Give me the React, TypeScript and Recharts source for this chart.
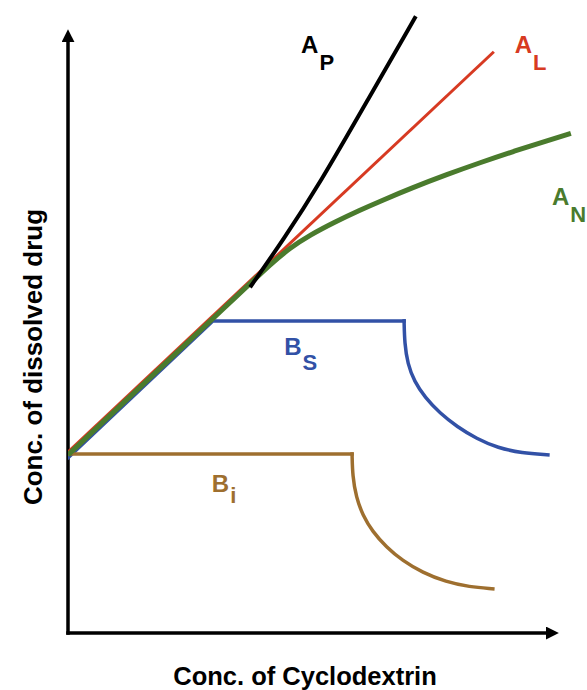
import React from 'react';
import { LineChart, Line, XAxis, YAxis, ReferenceLine, ReferenceDot, Label } from 'recharts';

const FONT = '"Liberation Sans", Arial, Helvetica, sans-serif';

// A_L : linear
const alX = [0, 83.5];
const alY = [29.05, 93.3];

// A_N : negative deviation
const anX = [0, 35.7, 39.6, 43.5, 47.5, 52.4, 57.3, 61.2, 67.6, 74.3, 80.8, 87.3, 93.9, 98.6];
const anY = [28.57, 56.1, 59.1, 61.8, 63.9, 66.0, 67.9, 69.3, 71.5, 73.6, 75.5, 77.3, 79.0, 80.2];

// A_P : positive deviation
const apX = [35.7, 42.2, 49.4, 58.8, 68.2];
const apY = [55.5, 63.1, 72.2, 85.6, 99.0];

// B_S : rise + plateau, then fall
const bsX = [0, 28.4, 65.9];
const bsY = [28.1, 50.1, 50.1];
const bsTailX = [65.9, 66.0, 66.6, 67.9, 70.0, 72.9, 76.3, 80.1, 84.3, 89.0, 94.1];
const bsTailY = [50.1, 46.5, 43.2, 40.4, 37.8, 35.3, 33.1, 31.2, 29.7, 28.9, 28.6];

// B_i : plateau, then fall
const biX = [0, 55.7];
const biY = [28.73, 28.73];
const biTailX = [55.7, 55.8, 56.5, 57.8, 59.7, 62.4, 65.6, 69.5, 74.1, 78.7, 83.3];
const biTailY = [28.73, 25.2, 21.8, 18.9, 16.3, 13.8, 11.6, 9.7, 8.2, 7.4, 7.1];

// axis extents (arrow heads added by marker)
const xAxisEnd = 93.9;
const yAxisEnd = 95.0;

const zip = (xs: number[], ys: number[]) => xs.map((x, i) => ({ x, y: ys[i] }));

const curveLabels = [
  { main: 'A', sub: 'P', x: 45.7, y: 93.1, color: '#000000', dy: 17 },
  { main: 'A', sub: 'L', x: 87.6, y: 93.1, color: '#d73a22', dy: 17 },
  { main: 'A', sub: 'N', x: 94.9, y: 68.7, color: '#4a7b2d', dy: 17 },
  { main: 'B', sub: 'S', x: 42.4, y: 44.6, color: '#3251a6', dy: 15 },
  { main: 'B', sub: 'i', x: 28.2, y: 22.6, color: '#9e6f2f', dy: 11 },
];

const XTitle = (props: any) => {
  const vb = props.viewBox;
  return (
    <text x={vb.x + 237} y={vb.y + vb.height - 5} textAnchor="middle" fontFamily={FONT} fontWeight="bold" fontSize={25.5} fill="#000">
      Conc. of Cyclodextrin
    </text>
  );
};

const YTitle = (props: any) => {
  const vb = props.viewBox;
  const cx = vb.x + 42;
  const cy = vb.y + 347;
  return (
    <text x={cx} y={cy} transform={`rotate(-90, ${cx}, ${cy})`} textAnchor="middle" fontFamily={FONT} fontWeight="bold" fontSize={26} fill="#000">
      Conc. of dissolved drug
    </text>
  );
};

const App: React.FC = () => {
  return (
    <div style={{ position: 'absolute', left: 0, top: 0, width: 587, height: 690, background: '#fff' }}>
      <LineChart width={587} height={690} margin={{ top: 10, right: 9, left: 0, bottom: 0 }}>
        <defs>
          <marker id="axisArrow" viewBox="0 0 13 13" refX={1} refY={6.5} markerWidth={13} markerHeight={13} markerUnits="userSpaceOnUse" orient="auto">
            <path d="M0,0 L13,6.5 L0,13 Z" fill="#000" />
          </marker>
        </defs>
        <XAxis type="number" dataKey="x" domain={[0, 100]} height={57} axisLine={false} tickLine={false} tick={false} allowDataOverflow>
          <Label content={XTitle} />
        </XAxis>
        <YAxis type="number" dataKey="y" domain={[0, 100]} width={68} axisLine={false} tickLine={false} tick={false} allowDataOverflow>
          <Label content={YTitle} />
        </YAxis>

        <ReferenceLine segment={[{ x: 0, y: 0 }, { x: 0, y: yAxisEnd }]} stroke="#000" strokeWidth={3.5} strokeLinecap="square" markerEnd="url(#axisArrow)" />
        <ReferenceLine segment={[{ x: 0, y: 0 }, { x: xAxisEnd, y: 0 }]} stroke="#000" strokeWidth={3.5} strokeLinecap="square" markerEnd="url(#axisArrow)" />

        <Line data={zip(bsX, bsY)} dataKey="y" type="linear" stroke="#3251a6" strokeWidth={3.5} strokeLinecap="square" dot={false} activeDot={false} isAnimationActive={false} />
        <Line data={zip(bsTailX, bsTailY)} dataKey="y" type="basis" stroke="#3251a6" strokeWidth={3.5} strokeLinecap="square" dot={false} activeDot={false} isAnimationActive={false} />
        <Line data={zip(biX, biY)} dataKey="y" type="linear" stroke="#9e6f2f" strokeWidth={3.5} strokeLinecap="square" dot={false} activeDot={false} isAnimationActive={false} />
        <Line data={zip(biTailX, biTailY)} dataKey="y" type="basis" stroke="#9e6f2f" strokeWidth={3.5} strokeLinecap="square" dot={false} activeDot={false} isAnimationActive={false} />
        <Line data={zip(alX, alY)} dataKey="y" type="linear" stroke="#d73a22" strokeWidth={3} dot={false} activeDot={false} isAnimationActive={false} />
        <Line data={zip(anX, anY)} dataKey="y" type="basis" stroke="#4a7b2d" strokeWidth={5} dot={false} activeDot={false} isAnimationActive={false} />
        <Line data={zip(apX, apY)} dataKey="y" type="basis" stroke="#000000" strokeWidth={4} dot={false} activeDot={false} isAnimationActive={false} />

        {curveLabels.map((l) => (
          <ReferenceDot
            key={l.main + l.sub}
            x={l.x}
            y={l.y}
            r={0}
            shape={(p: any) => (
              <text x={p.cx} y={p.cy} fill={l.color} fontFamily={FONT} fontWeight="bold" fontSize={24}>
                {l.main}
                <tspan dx={1} dy={l.dy} fontSize={22}>{l.sub}</tspan>
              </text>
            )}
          />
        ))}
      </LineChart>
    </div>
  );
};

export default App;
